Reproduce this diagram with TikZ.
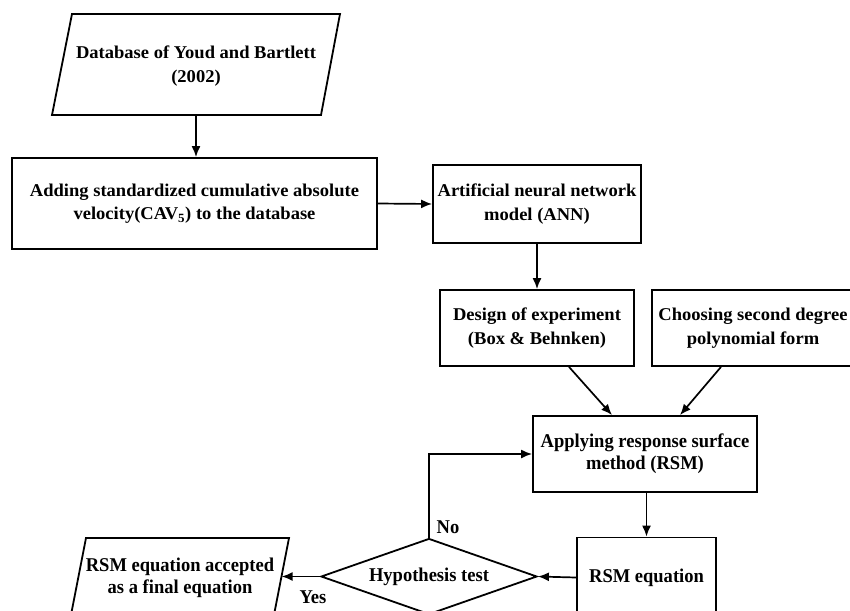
\documentclass[tikz,border=0pt]{standalone}
\usepackage{fontspec}
\setmainfont{Liberation Serif}
\newfontfamily\wideserif[FakeStretch=1.03]{Liberation Serif}
\newfontfamily\narrowserif[FakeStretch=0.95]{Liberation Serif}
\usetikzlibrary{shapes.geometric,arrows.meta}
\newcommand\topfont{\wideserif\bfseries\fontsize{18}{23.5}\selectfont}
\newcommand\lowfont{\narrowserif\bfseries\fontsize{19.5}{22}\selectfont}
\begin{document}
\begin{tikzpicture}[x=1pt,y=-1pt,
  boxa/.style={draw, line width=1.8pt, rectangle, inner sep=0pt, align=center, font=\topfont},
  boxb/.style={draw, line width=1.8pt, rectangle, inner sep=0pt, align=center, font=\lowfont},
  txta/.style={inner sep=0pt, align=center, font=\topfont},
  txtb/.style={inner sep=0pt, align=center, font=\lowfont},
  outline/.style={draw, line width=1.8pt, line join=miter},
  arr/.style={draw, line width=1.7pt, -{Latex[length=11pt,width=9pt]}},
  lbl/.style={inner sep=0pt, font=\lowfont}]
\clip (0,0) rectangle (850,610);
\fill[white] (0,0) rectangle (850,610);

% top parallelogram
\draw[outline] (72,14) -- (340,14) -- (321,115) -- (52,115) -- cycle;
\node[txta] (db) at (196,66) {Database of Youd and Bartlett\\(2002)};
\coordinate (dbout) at (196,115);

% boxes
\node[boxa, minimum width=365pt, minimum height=91pt] (cav) at (194.5,203.5)
  {Adding standardized cumulative absolute\\velocity(CAV\textsubscript{5}) to the database};
\node[boxa, minimum width=208pt, minimum height=78pt] (ann) at (537,204)
  {Artificial neural network\\model (ANN)};
\node[boxa, minimum width=194pt, minimum height=76pt] (doe) at (537,328)
  {Design of experiment\\(Box \& Behnken)};
\node[boxa, minimum width=202pt, minimum height=76pt] (poly) at (753,328)
  {Choosing second degree\\polynomial form};
\node[boxb, minimum width=224pt, minimum height=76pt] (rsm) at (645,454)
  {Applying response surface\\method (RSM)};
\node[boxb, minimum width=139pt, minimum height=80pt] (rsmeq) at (646.5,577.5)
  {RSM equation};
\node[draw, line width=1.8pt, diamond, aspect=2.84, inner sep=0pt,
  minimum width=216pt, minimum height=76pt, font=\lowfont] (hyp) at (429,576.5)
  {Hypothesis test};

% bottom parallelogram
\draw[outline] (86,538) -- (289,538) -- (273,620) -- (70,620) -- cycle;
\node[txtb] (final) at (180,578) {RSM equation accepted\\as a final equation};
\coordinate (finalin) at (281.6,576.5);

% connectors
\draw[arr] (dbout) -- (cav.north -| dbout);
\draw[arr] (cav.east) -- (ann.west);
\draw[arr] (ann.south) -- (doe.north);
\draw[arr] ([xshift=32pt]doe.south) -- ([xshift=-33pt]rsm.north);
\draw[arr] ([xshift=-32pt]poly.south) -- ([xshift=35pt]rsm.north);
\draw[arr] (rsm.south -| rsmeq.north) -- (rsmeq.north);
\draw[arr] (rsmeq.west) -- (hyp.east);
\draw[arr] (hyp.north) -- (hyp.north |- rsm.west) -- (rsm.west);
\draw[arr] (hyp.west) -- (finalin);

% labels
\node[lbl] (no) at (448,527) {No};
\node[lbl] (yes) at (313,597) {Yes};
\end{tikzpicture}
\end{document}
